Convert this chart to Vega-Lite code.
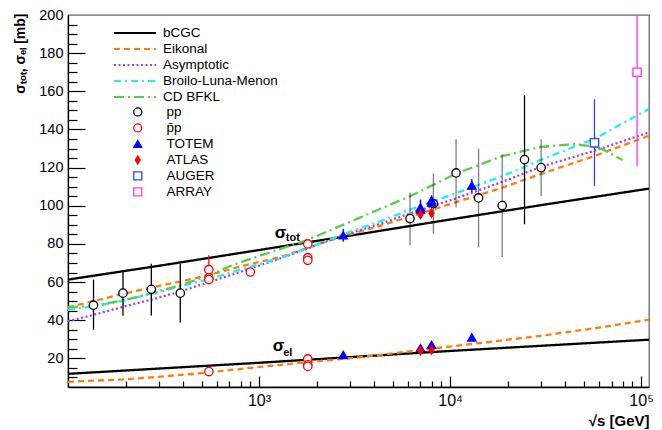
{
"$schema": "https://vega.github.io/schema/vega-lite/v6.json",
"width": 581, "height": 372,
"autosize": "none",
"padding": {"left": 68, "top": 15, "right": 13, "bottom": 43},
"background": "white",
"config": {"font": "Liberation Sans", "view": {"stroke": "#666666", "strokeWidth": 1.3}, "axis": {"grid": false}},
"datasets": {
"curves": [
{"m":"bCGC","k":"tot","x":100,"y":61.3},{"m":"bCGC","k":"tot","x":316,"y":68.9},{"m":"bCGC","k":"tot","x":1000,"y":76.8},{"m":"bCGC","k":"tot","x":3162,"y":84.7},{"m":"bCGC","k":"tot","x":10000,"y":92.8},{"m":"bCGC","k":"tot","x":31623,"y":100.7},{"m":"bCGC","k":"tot","x":110000,"y":109.0},
{"m":"bCGC","k":"el","x":100,"y":11.9},{"m":"bCGC","k":"el","x":1000,"y":17.7},{"m":"bCGC","k":"el","x":10000,"y":23.9},{"m":"bCGC","k":"el","x":110000,"y":29.8},
{"m":"Eikonal","k":"tot","x":100,"y":46.8},{"m":"Eikonal","k":"tot","x":136,"y":50.0},{"m":"Eikonal","k":"tot","x":194,"y":53.8},{"m":"Eikonal","k":"tot","x":273,"y":57.2},{"m":"Eikonal","k":"tot","x":387,"y":60.2},{"m":"Eikonal","k":"tot","x":540,"y":63.6},{"m":"Eikonal","k":"tot","x":702,"y":66.6},{"m":"Eikonal","k":"tot","x":894,"y":69.4},{"m":"Eikonal","k":"tot","x":1284,"y":73.0},{"m":"Eikonal","k":"tot","x":1773,"y":77.8},{"m":"Eikonal","k":"tot","x":2748,"y":84.0},{"m":"Eikonal","k":"tot","x":4295,"y":89.5},{"m":"Eikonal","k":"tot","x":6170,"y":94.3},{"m":"Eikonal","k":"tot","x":10840,"y":102.0},{"m":"Eikonal","k":"tot","x":18740,"y":109.5},{"m":"Eikonal","k":"tot","x":29640,"y":116.5},{"m":"Eikonal","k":"tot","x":57600,"y":126.3},{"m":"Eikonal","k":"tot","x":110000,"y":136.7},
{"m":"Eikonal","k":"el","x":100,"y":7.7},{"m":"Eikonal","k":"el","x":194,"y":9.0},{"m":"Eikonal","k":"el","x":273,"y":10.0},{"m":"Eikonal","k":"el","x":540,"y":12.6},{"m":"Eikonal","k":"el","x":1000,"y":15.5},{"m":"Eikonal","k":"el","x":1795,"y":18.0},{"m":"Eikonal","k":"el","x":3370,"y":20.6},{"m":"Eikonal","k":"el","x":6960,"y":24.3},{"m":"Eikonal","k":"el","x":10000,"y":26.2},{"m":"Eikonal","k":"el","x":29640,"y":31.8},{"m":"Eikonal","k":"el","x":61200,"y":36.2},{"m":"Eikonal","k":"el","x":110000,"y":40.3},
{"m":"Asymptotic","k":"tot","x":100,"y":39.5},{"m":"Asymptotic","k":"tot","x":136,"y":42.8},{"m":"Asymptotic","k":"tot","x":194,"y":47.0},{"m":"Asymptotic","k":"tot","x":273,"y":50.8},{"m":"Asymptotic","k":"tot","x":387,"y":55.0},{"m":"Asymptotic","k":"tot","x":540,"y":59.8},{"m":"Asymptotic","k":"tot","x":702,"y":63.5},{"m":"Asymptotic","k":"tot","x":894,"y":67.0},{"m":"Asymptotic","k":"tot","x":1284,"y":72.3},{"m":"Asymptotic","k":"tot","x":1773,"y":77.5},{"m":"Asymptotic","k":"tot","x":2748,"y":84.5},{"m":"Asymptotic","k":"tot","x":4295,"y":90.5},{"m":"Asymptotic","k":"tot","x":6170,"y":96.0},{"m":"Asymptotic","k":"tot","x":10840,"y":104.0},{"m":"Asymptotic","k":"tot","x":18740,"y":112.5},{"m":"Asymptotic","k":"tot","x":29640,"y":120.3},{"m":"Asymptotic","k":"tot","x":57600,"y":129.0},{"m":"Asymptotic","k":"tot","x":110000,"y":138.5},
{"m":"Broilo-Luna-Menon","k":"tot","x":100,"y":45.5},{"m":"Broilo-Luna-Menon","k":"tot","x":136,"y":47.2},{"m":"Broilo-Luna-Menon","k":"tot","x":194,"y":50.2},{"m":"Broilo-Luna-Menon","k":"tot","x":273,"y":53.8},{"m":"Broilo-Luna-Menon","k":"tot","x":387,"y":57.8},{"m":"Broilo-Luna-Menon","k":"tot","x":540,"y":61.5},{"m":"Broilo-Luna-Menon","k":"tot","x":702,"y":64.8},{"m":"Broilo-Luna-Menon","k":"tot","x":894,"y":68.0},{"m":"Broilo-Luna-Menon","k":"tot","x":1284,"y":72.5},{"m":"Broilo-Luna-Menon","k":"tot","x":1773,"y":77.5},{"m":"Broilo-Luna-Menon","k":"tot","x":2748,"y":85.0},{"m":"Broilo-Luna-Menon","k":"tot","x":4295,"y":91.8},{"m":"Broilo-Luna-Menon","k":"tot","x":6170,"y":98.0},{"m":"Broilo-Luna-Menon","k":"tot","x":10840,"y":106.7},{"m":"Broilo-Luna-Menon","k":"tot","x":18740,"y":115.5},{"m":"Broilo-Luna-Menon","k":"tot","x":29640,"y":123.9},{"m":"Broilo-Luna-Menon","k":"tot","x":57600,"y":135.3},{"m":"Broilo-Luna-Menon","k":"tot","x":110000,"y":150.8},
{"m":"CD BFKL","k":"tot","x":100,"y":46.8},{"m":"CD BFKL","k":"tot","x":136,"y":47.6},{"m":"CD BFKL","k":"tot","x":194,"y":50.4},{"m":"CD BFKL","k":"tot","x":273,"y":54.2},{"m":"CD BFKL","k":"tot","x":387,"y":58.3},{"m":"CD BFKL","k":"tot","x":540,"y":63.3},{"m":"CD BFKL","k":"tot","x":702,"y":68.3},{"m":"CD BFKL","k":"tot","x":894,"y":72.0},{"m":"CD BFKL","k":"tot","x":1284,"y":77.3},{"m":"CD BFKL","k":"tot","x":1773,"y":81.9},{"m":"CD BFKL","k":"tot","x":2748,"y":90.0},{"m":"CD BFKL","k":"tot","x":4295,"y":98.3},{"m":"CD BFKL","k":"tot","x":6170,"y":105.0},{"m":"CD BFKL","k":"tot","x":10840,"y":117.0},{"m":"CD BFKL","k":"tot","x":18740,"y":126.0},{"m":"CD BFKL","k":"tot","x":29640,"y":130.8},{"m":"CD BFKL","k":"tot","x":44160,"y":132.3},{"m":"CD BFKL","k":"tot","x":57600,"y":131.0},{"m":"CD BFKL","k":"tot","x":66580,"y":128.5},{"m":"CD BFKL","k":"tot","x":79800,"y":124.0}
],
"pts": [
{"set":"pp","x":136,"y":47.9,"lo":35.0,"hi":61.3,"grp":"a"},
{"set":"pp","x":194,"y":54.2,"lo":42.3,"hi":65.3,"grp":"a"},
{"set":"pp","x":273,"y":56.2,"lo":42.5,"hi":69.6,"grp":"a"},
{"set":"pp","x":387,"y":54.2,"lo":38.8,"hi":69.6,"grp":"a"},
{"set":"pp","x":6170,"y":93.3,"lo":79.3,"hi":106.9,"grp":"b"},
{"set":"pp","x":8180,"y":101.1,"lo":85.4,"hi":116.9,"grp":"b"},
{"set":"pp","x":10750,"y":117.2,"lo":99.1,"hi":134.9,"grp":"b"},
{"set":"pp","x":14100,"y":104.1,"lo":78.4,"hi":130.0,"grp":"b"},
{"set":"pp","x":18750,"y":100.1,"lo":73.1,"hi":127.0,"grp":"b"},
{"set":"pp","x":24530,"y":124.2,"lo":90.3,"hi":158.0,"grp":"a"},
{"set":"pp","x":29970,"y":120.0,"lo":105.1,"hi":134.9,"grp":"b"},
{"set":"p̄p","x":546,"y":66.5,"lo":59.0,"hi":74.0,"grp":"a"},
{"set":"p̄p","x":546,"y":62.2,"grp":"a"},
{"set":"p̄p","x":546,"y":61.3,"grp":"a"},
{"set":"p̄p","x":900,"y":65.3,"grp":"a"},
{"set":"p̄p","x":1800,"y":80.0,"grp":"a"},
{"set":"p̄p","x":1800,"y":72.8,"grp":"a"},
{"set":"p̄p","x":1800,"y":71.4,"grp":"a"},
{"set":"p̄p","x":546,"y":13.1,"grp":"a"},
{"set":"p̄p","x":1800,"y":19.7,"grp":"a"},
{"set":"p̄p","x":1800,"y":16.6,"grp":"a"},
{"set":"p̄p","x":1800,"y":15.8,"grp":"a"},
{"set":"TOTEM","x":2760,"y":84.5,"lo":81.2,"hi":88.0,"grp":"a"},
{"set":"TOTEM","x":7000,"y":98.0,"lo":93.6,"hi":102.5,"grp":"a"},
{"set":"TOTEM","x":7000,"y":99.1,"lo":94.8,"hi":103.3,"grp":"a"},
{"set":"TOTEM","x":8000,"y":101.7,"lo":98.8,"hi":104.6,"grp":"a"},
{"set":"TOTEM","x":8000,"y":102.9,"lo":100.6,"hi":105.5,"grp":"a"},
{"set":"TOTEM","x":13000,"y":110.6,"lo":107.2,"hi":114.0,"grp":"a"},
{"set":"TOTEM","x":2760,"y":21.8,"grp":"a"},
{"set":"TOTEM","x":7000,"y":25.4,"grp":"a"},
{"set":"TOTEM","x":8000,"y":27.1,"grp":"a"},
{"set":"TOTEM","x":13000,"y":31.0,"grp":"a"},
{"set":"ATLAS","x":7000,"y":95.35,"lo":94.0,"hi":96.7,"grp":"a"},
{"set":"ATLAS","x":8000,"y":96.07,"lo":95.2,"hi":97.0,"grp":"a"},
{"set":"ATLAS","x":7000,"y":24.0,"grp":"a"},
{"set":"ATLAS","x":8000,"y":24.33,"grp":"a"},
{"set":"AUGER","x":57000,"y":133.0,"lo":110.4,"hi":155.9,"grp":"a"},
{"set":"ARRAY","x":95300,"y":170.0,"lo":120.9,"hi":220.0,"grp":"a"}
],
"ann": [
{"x":1209,"y":82.9,"t":"σ","s":"big"},
{"x":1380,"y":81.3,"t":"tot","s":"small"},
{"x":1180,"y":24.1,"t":"σ","s":"big"},
{"x":1339,"y":21.5,"t":"el","s":"small"}
]
},
"layer": [
{
"data": {"name": "curves"},
"mark": {"type": "line", "strokeWidth": 2.3, "clip": true},
"encoding": {
"x": {"field": "x", "type": "quantitative", "scale": {"type": "log", "domain": [100, 110000], "nice": false},
 "axis": {"orient": "bottom", "values": [1000, 10000, 100000], "ticks": false, "labelExpr": "datum.value == 1000 ? '10³' : datum.value == 10000 ? '10⁴' : '10⁵'", "labelFontSize": 16, "labelColor": "black", "labelPadding": 5, "labelOverlap": false, "labelFlush": false, "domainColor": "black", "domainWidth": 1.3, "title": "√s [GeV]", "titleFontSize": 15, "titleFontWeight": "bold", "titleColor": "black", "titleAlign": "right", "titleBaseline": "alphabetic", "titleX": 581, "titleY": 38}},
"y": {"field": "y", "type": "quantitative", "scale": {"domain": [5, 200], "nice": false, "zero": false},
 "axis": {"orient": "left", "values": [20,40,60,80,100,120,140,160,180,200], "ticks": false, "labelFontSize": 14.5, "labelColor": "black", "labelPadding": 5, "labelOverlap": false, "labelFlush": false, "domainColor": "black", "domainWidth": 1.3, "title": "σₜₒₜ, σₑₗ [mb]", "titleFontSize": 14, "titleFontWeight": "bold", "titleColor": "black", "titleAngle": -90, "titleAlign": "right", "titleBaseline": "middle", "titleX": -48, "titleY": -2}},
"color": {"field": "m", "type": "nominal", "scale": {"domain": ["bCGC","Eikonal","Asymptotic","Broilo-Luna-Menon","CD BFKL"], "range": ["#000000","#ff7f0e","#a040ff","#22eeee","#5ccb4a"]},
 "legend": {"orient": "none", "legendX": 45, "legendY": 10, "title": null, "symbolType": "stroke", "symbolSize": 1764, "symbolStrokeWidth": 2, "clipHeight": 15.9, "rowPadding": 0, "padding": 0, "labelOffset": 6, "labelFontSize": 13.5, "labelColor": "black", "labelFont": "Liberation Sans"}},
"strokeDash": {"field": "m", "type": "nominal", "scale": {"domain": ["bCGC","Eikonal","Asymptotic","Broilo-Luna-Menon","CD BFKL"], "range": [[1,0],[6,4],[2,2.5],[7,4,2,4],[10,4,2,4]]},
 "legend": {"orient": "none", "legendX": 45, "legendY": 10, "title": null, "symbolType": "stroke", "symbolSize": 1764, "symbolStrokeWidth": 2, "clipHeight": 15.9, "rowPadding": 0, "padding": 0, "labelOffset": 6, "labelFontSize": 13.5, "labelColor": "black", "labelFont": "Liberation Sans"}},
"detail": {"field": "k"}
}
},
{
"data": {"name": "pts"},
"transform": [{"filter": "isValid(datum.lo)"}],
"mark": {"type": "rule", "strokeWidth": 1.3, "clip": true},
"encoding": {
"x": {"field": "x", "type": "quantitative", "axis": null},
"y": {"field": "lo", "type": "quantitative", "axis": null},
"y2": {"field": "hi"},
"stroke": {"field": "set", "type": "nominal", "scale": {"domain": ["pp","p̄p","TOTEM","ATLAS","AUGER","ARRAY"], "range": ["#000000","#ff0000","#0000ff","#ff0000","#3344ff","#ff33ff"]},
 "legend": {"orient": "none", "legendX": 63, "legendY": 89, "title": null, "symbolSize": 64, "symbolStrokeWidth": 1.3, "clipHeight": 15.9, "rowPadding": 0, "padding": 0, "labelOffset": 22, "labelFontSize": 13.5, "labelColor": "black", "labelFont": "Liberation Sans"}},
"strokeOpacity": {"field": "grp", "type": "nominal", "scale": {"domain": ["a","b"], "range": [1, 0.5]}, "legend": null}
}
},
{
"data": {"name": "pts"},
"mark": {"type": "point", "size": 70, "strokeWidth": 1.3, "opacity": 1, "fillOpacity": 1},
"encoding": {
"x": {"field": "x", "type": "quantitative", "axis": null},
"y": {"field": "y", "type": "quantitative", "axis": null},
"shape": {"field": "set", "type": "nominal", "scale": {"domain": ["pp","p̄p","TOTEM","ATLAS","AUGER","ARRAY"], "range": ["circle","circle","triangle-up","M0,-1L0.6,0L0,1L-0.6,0Z","square","square"]},
 "legend": {"orient": "none", "legendX": 63, "legendY": 89, "title": null, "symbolSize": 64, "symbolStrokeWidth": 1.3, "clipHeight": 15.9, "rowPadding": 0, "padding": 0, "labelOffset": 22, "labelFontSize": 13.5, "labelColor": "black", "labelFont": "Liberation Sans"}},
"stroke": {"field": "set", "type": "nominal", "scale": {"domain": ["pp","p̄p","TOTEM","ATLAS","AUGER","ARRAY"], "range": ["#000000","#ff0000","#0000ff","#ff0000","#3344ff","#ff33ff"]},
 "legend": {"orient": "none", "legendX": 63, "legendY": 89, "title": null, "symbolSize": 64, "symbolStrokeWidth": 1.3, "clipHeight": 15.9, "rowPadding": 0, "padding": 0, "labelOffset": 22, "labelFontSize": 13.5, "labelColor": "black", "labelFont": "Liberation Sans"}},
"fill": {"field": "set", "type": "nominal", "scale": {"domain": ["pp","p̄p","TOTEM","ATLAS","AUGER","ARRAY"], "range": ["#ffffff","#ffffff","#0000ff","#ff0000","#ffffff","#ffffff"]},
 "legend": {"orient": "none", "legendX": 63, "legendY": 89, "title": null, "symbolSize": 64, "symbolStrokeWidth": 1.3, "clipHeight": 15.9, "rowPadding": 0, "padding": 0, "labelOffset": 22, "labelFontSize": 13.5, "labelColor": "black", "labelFont": "Liberation Sans"}}
}
},
{
"data": {"name": "ann"},
"transform": [{"filter": "datum.s == 'big'"}],
"mark": {"type": "text", "align": "left", "baseline": "alphabetic", "fontSize": 17, "fontWeight": "bold", "font": "Liberation Sans", "color": "black"},
"encoding": {
"x": {"field": "x", "type": "quantitative",
 "axis": {"orient": "top", "offset": -372, "values": [1000,10000,100000], "labels": false, "domain": false, "title": null, "ticks": true, "tickColor": "black", "tickWidth": 1.2, "tickSize": 11}},
"y": {"field": "y", "type": "quantitative",
 "axis": {"orient": "right", "offset": -581, "values": [20,40,60,80,100,120,140,160,180], "labels": false, "domain": false, "title": null, "ticks": true, "tickColor": "black", "tickWidth": 1.2, "tickSize": 17}},
"text": {"field": "t"}
}
},
{
"data": {"name": "ann"},
"transform": [{"filter": "datum.s == 'small'"}],
"mark": {"type": "text", "align": "left", "baseline": "alphabetic", "fontSize": 11, "fontWeight": "bold", "font": "Liberation Sans", "color": "black"},
"encoding": {
"x": {"field": "x", "type": "quantitative",
 "axis": {"orient": "top", "offset": -372, "values": [200,300,400,500,600,700,800,900,2000,3000,4000,5000,6000,7000,8000,9000,20000,30000,40000,50000,60000,70000,80000,90000], "labels": false, "domain": false, "title": null, "ticks": true, "tickColor": "black", "tickWidth": 1.2, "tickSize": 6}},
"y": {"field": "y", "type": "quantitative",
 "axis": {"orient": "right", "offset": -581, "values": [10,15,25,30,35,45,50,55,65,70,75,85,90,95,105,110,115,125,130,135,145,150,155,165,170,175,185,190,195], "labels": false, "domain": false, "title": null, "ticks": true, "tickColor": "black", "tickWidth": 1.2, "tickSize": 9}},
"text": {"field": "t"}
}
}
],
"resolve": {"axis": {"x": "independent", "y": "independent"}}
}
